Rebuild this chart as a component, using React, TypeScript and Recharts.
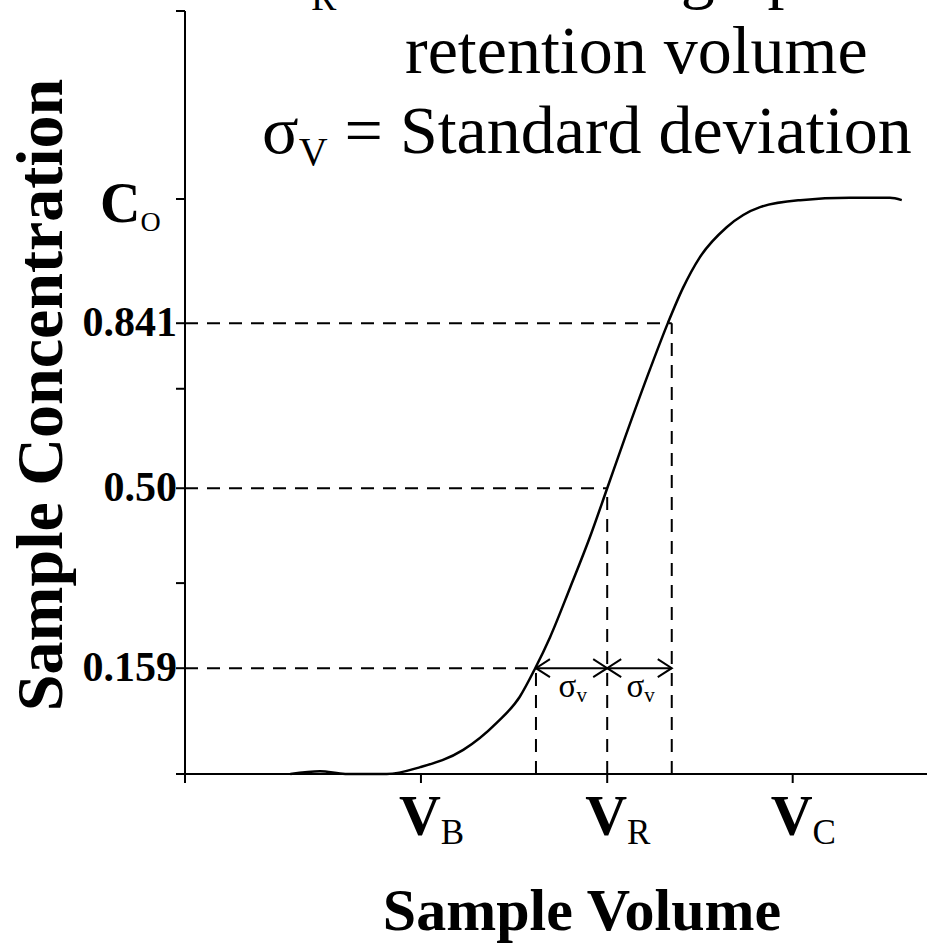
import { LineChart, Line, XAxis, YAxis, ReferenceLine } from 'recharts';

// breakthrough curve, x in arbitrary volume units, y as fraction of C0 (as drawn)
const volume = [14.2, 18.2, 21.6, 27.2, 31.7, 37.5, 42.0, 45.1, 47.2, 49.2, 51.9, 54.6, 56.9, 59.3, 62.7, 65.1, 67.1, 69.4, 73.0, 77.5, 82.9, 89.6, 95.0, 96.6];
const conc = [0, 0.005, 0, 0, 0.012, 0.042, 0.089, 0.134, 0.184, 0.238, 0.324, 0.413, 0.497, 0.585, 0.705, 0.785, 0.845, 0.899, 0.951, 0.986, 0.998, 1.002, 1.002, 0.998];

const yTicks = [0, 0.184, 0.332, 0.497, 0.67, 0.784, 1.0, 1.327];
const yTickLabels = ['', '0.159', '', '0.50', '', '0.841', 'C|O', ''];

const xTicks = [0, 31.8, 56.9, 81.9];
const xTickLabels = ['', 'V|B', 'V|R', 'V|C'];

// dashed guides: level height and where it meets the curve
const guideLevels = [0.184, 0.497, 0.784];
const guideX = [47.3, 56.9, 65.6];

const data = volume.map((v, i) => ({ v, c: conc[i] }));

const FONT = '"Liberation Serif", "Times New Roman", serif';

const YTick = (props: any) => {
  const { y, payload } = props;
  const label = yTickLabels[yTicks.indexOf(payload.value)];
  if (!label) return null;
  if (label.includes('|')) {
    const [main, sub] = label.split('|');
    return (
      <text x={100} y={y + 23} fontFamily={FONT} fill="#000">
        <tspan fontSize={56} fontWeight="bold">{main}</tspan>
        <tspan fontSize={28} dy={9}>{sub}</tspan>
      </text>
    );
  }
  return (
    <text x={177} y={y + 13} textAnchor="end" fontFamily={FONT} fontSize={42} fontWeight="bold" fill="#000">
      {label}
    </text>
  );
};

const XTick = (props: any) => {
  const { x, payload } = props;
  const label = xTickLabels[xTicks.indexOf(payload.value)];
  if (!label) return null;
  const [main, sub] = label.split('|');
  return (
    <text x={x - 22} y={835} fontFamily={FONT} fill="#000">
      <tspan fontSize={58} fontWeight="bold">{main}</tspan>
      <tspan fontSize={35} dy={9}>{sub}</tspan>
    </text>
  );
};

const SigmaArrow = (props: any) => {
  const { x1, y1, x2 } = props;
  const y = y1;
  const a = 14;
  const h = 9;
  const mid = (x1 + x2) / 2;
  return (
    <g>
      <line x1={x1} y1={y} x2={x2} y2={y} stroke="#000" strokeWidth={2} />
      <polyline points={`${x1 + a},${y - h} ${x1},${y} ${x1 + a},${y + h}`} fill="none" stroke="#000" strokeWidth={2} />
      <polyline points={`${x2 - a},${y - h} ${x2},${y} ${x2 - a},${y + h}`} fill="none" stroke="#000" strokeWidth={2} />
      <text x={mid - 13} y={y + 29} fontFamily={FONT} fontSize={33} fill="#000">
        σ<tspan fontSize={21} dy={5}>v</tspan>
      </text>
    </g>
  );
};

export default function App() {
  return (
    <div style={{ position: 'absolute', left: 0, top: 0, width: 927, height: 944, background: '#fff' }}>
      <LineChart width={927} height={944} data={data} margin={{ top: 11, right: 0, bottom: 0, left: 0 }}>
        <XAxis
          dataKey="v"
          type="number"
          domain={[0, 100]}
          ticks={xTicks}
          interval={0}
          height={170}
          tickSize={9}
          axisLine={{ stroke: '#000', strokeWidth: 2 }}
          tickLine={{ stroke: '#000', strokeWidth: 2 }}
          tick={<XTick />}
        />
        <YAxis
          type="number"
          domain={[0, 1.327]}
          ticks={yTicks}
          interval={0}
          width={185}
          tickSize={9}
          axisLine={{ stroke: '#000', strokeWidth: 2 }}
          tickLine={{ stroke: '#000', strokeWidth: 2 }}
          tick={<YTick />}
        />
        {guideLevels.map((h, i) => (
          <ReferenceLine
            key={`h${i}`}
            segment={[{ x: 0, y: h }, { x: guideX[i], y: h }]}
            stroke="#000"
            strokeWidth={2}
            strokeDasharray="13 9"
          />
        ))}
        {guideLevels.map((h, i) => (
          <ReferenceLine
            key={`v${i}`}
            segment={[{ x: guideX[i], y: 0 }, { x: guideX[i], y: h }]}
            stroke="#000"
            strokeWidth={2}
            strokeDasharray="13 9"
          />
        ))}
        <ReferenceLine
          segment={[{ x: guideX[0], y: guideLevels[0] }, { x: guideX[1], y: guideLevels[0] }]}
          shape={SigmaArrow}
        />
        <ReferenceLine
          segment={[{ x: guideX[1], y: guideLevels[0] }, { x: guideX[2], y: guideLevels[0] }]}
          shape={SigmaArrow}
        />
        <Line
          dataKey="c"
          type="monotone"
          stroke="#000"
          strokeWidth={2.5}
          dot={false}
          activeDot={false}
          isAnimationActive={false}
        />
      </LineChart>
      <svg width={927} height={944} style={{ position: 'absolute', left: 0, top: 0, pointerEvents: 'none' }}>
        <g fontFamily={FONT} fill="#000">
          <text x={262} y={-4} fontSize={68}>
            V<tspan fontSize={38} dy={14}>R</tspan>
            <tspan dy={-14}> = Chromatographic</tspan>
          </text>
          <text x={405} y={73} fontSize={68}>retention volume</text>
          <text x={262} y={153} fontSize={68}>
            σ<tspan fontSize={40} dy={12}>V</tspan>
            <tspan dy={-12}> = Standard deviation</tspan>
          </text>
          <text transform="translate(62,395) rotate(-90)" textAnchor="middle" fontSize={66} fontWeight="bold">
            Sample Concentration
          </text>
          <text x={582} y={930} textAnchor="middle" fontSize={60} fontWeight="bold">
            Sample Volume
          </text>
        </g>
      </svg>
    </div>
  );
}
